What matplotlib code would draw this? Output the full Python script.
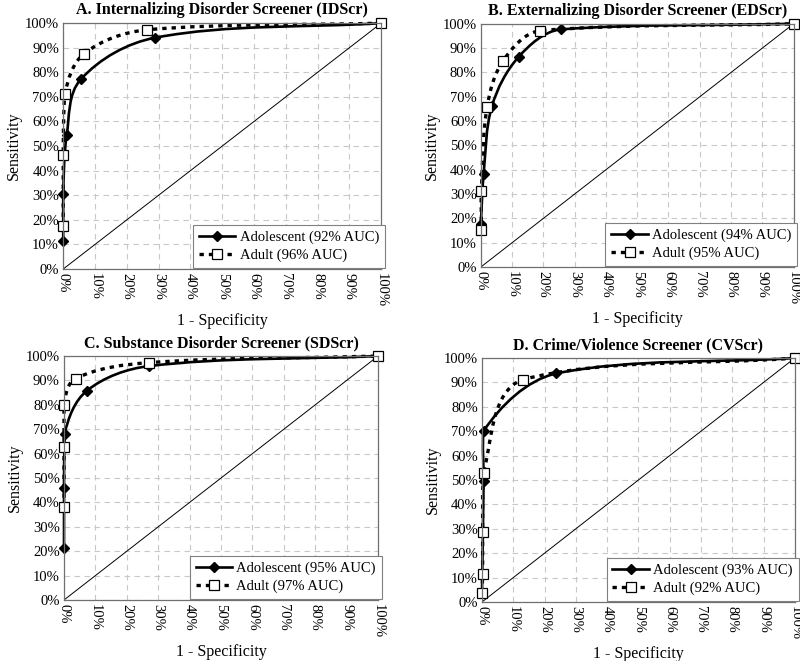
import matplotlib
matplotlib.use("Agg")
import matplotlib.pyplot as plt
import numpy as np
from matplotlib.path import Path
from matplotlib.patches import PathPatch
from matplotlib.lines import Line2D
from matplotlib.ticker import MultipleLocator, PercentFormatter

plt.rcParams['font.family'] = ['Liberation Serif', 'DejaVu Serif']

# A. Internalizing
a_adol_x = [0.000, 0.000, 0.011, 0.055, 0.290, 1.0]
a_adol_y = [0.113, 0.306, 0.544, 0.771, 0.941, 1.0]
a_adult_x = [0.000, 0.000, 0.005, 0.066, 0.263, 1.0]
a_adult_y = [0.174, 0.464, 0.710, 0.876, 0.973, 1.0]

# B. Externalizing
b_adol_x = [0.000, 0.009, 0.036, 0.121, 0.255, 1.0]
b_adol_y = [0.176, 0.381, 0.663, 0.864, 0.977, 1.0]
b_adult_x = [0.002, 0.002, 0.020, 0.072, 0.190, 1.0]
b_adult_y = [0.151, 0.314, 0.657, 0.849, 0.972, 1.0]

# C. Substance
c_adol_x = [0.000, 0.000, 0.002, 0.073, 0.271, 1.0]
c_adol_y = [0.214, 0.459, 0.682, 0.858, 0.959, 1.0]
c_adult_x = [0.000, 0.000, 0.000, 0.037, 0.271, 1.0]
c_adult_y = [0.381, 0.627, 0.801, 0.908, 0.973, 1.0]

# D. Crime/Violence
d_adol_x = [0.000, 0.005, 0.005, 0.237, 1.0]
d_adol_y = [0.038, 0.497, 0.701, 0.937, 1.0]
d_adult_x = [0.000, 0.002, 0.002, 0.005, 0.130, 1.0]
d_adult_y = [0.038, 0.116, 0.286, 0.529, 0.912, 1.0]

titles = ["A. Internalizing Disorder Screener (IDScr)",
	"B. Externalizing Disorder Screener (EDScr)",
	"C. Substance Disorder Screener (SDScr)",
	"D. Crime/Violence Screener (CVScr)"]
adol_auc = ["92%", "94%", "95%", "93%"]
adult_auc = ["96%", "95%", "97%", "92%"]

# axes rectangles in figure fractions
rects = [[0.079, 0.593, 0.3975, 0.372],
	[0.601, 0.596, 0.391, 0.368],
	[0.080, 0.0923, 0.3925, 0.369],
	[0.6025, 0.0893, 0.391, 0.369]]

DASH = (0, (1.3, 1.5))


def smooth_path(xs, ys, sx=1.3):
	# smoothed line like Excel: cubic Bezier, tangent along neighbours,
	# handle length a third of the segment (worked out in a box scaled like the plot)
	pts = np.column_stack([xs, ys]).astype(float)
	scale = np.array([sx, 1.0])
	q = pts * scale
	n = len(q)
	dirs = []
	for i in range(n):
		d = q[min(i + 1, n - 1)] - q[max(i - 1, 0)]
		dirs.append(d / (np.hypot(*d) or 1.0))
	verts = [pts[0]]
	codes = [Path.MOVETO]
	for i in range(n - 1):
		L = np.hypot(*(q[i + 1] - q[i]))
		c1 = np.clip((q[i] + dirs[i] * L / 3) / scale, 0, 1)
		c2 = np.clip((q[i + 1] - dirs[i + 1] * L / 3) / scale, 0, 1)
		verts += [c1, c2, pts[i + 1]]
		codes += [Path.CURVE4] * 3
	return Path(verts, codes)


def draw_panel(ax, adol, adult, title, auc1, auc2):
	ax.set_xlim(0, 1)
	ax.set_ylim(0, 1)
	ax.xaxis.set_major_locator(MultipleLocator(0.1))
	ax.yaxis.set_major_locator(MultipleLocator(0.1))
	ax.xaxis.set_major_formatter(PercentFormatter(1.0, decimals=0))
	ax.yaxis.set_major_formatter(PercentFormatter(1.0, decimals=0))
	ax.grid(True, ls=(0, (5, 4)), color='#c8c8c8', lw=0.8)
	ax.set_axisbelow(True)
	ax.tick_params(length=0, labelsize=10.5, pad=3)
	for lab in ax.get_xticklabels():
		lab.set_rotation(270)
	for s in ax.spines.values():
		s.set_color('#707070')
		s.set_linewidth(0.9)

	ax.plot([0, 1], [0, 1], color='black', lw=0.7)

	ax.add_patch(PathPatch(smooth_path(*adult), fill=False, ec='black', lw=2.4,
		ls=DASH, capstyle='butt', clip_on=False))
	ax.add_patch(PathPatch(smooth_path(*adol), fill=False, ec='black', lw=1.9,
		clip_on=False))
	ax.plot(*adol, ls='none', marker='D', ms=5, color='black', clip_on=False)
	ax.plot(*adult, ls='none', marker='s', ms=7.5, mfc='white', mec='black', mew=0.9,
		clip_on=False)

	h1 = Line2D([], [], color='black', lw=1.9, marker='D', ms=5)
	h2 = Line2D([], [], color='black', lw=2.4, ls=DASH, marker='s', ms=7.5,
		mfc='white', mec='black', mew=0.9)
	leg = ax.legend([h1, h2], [f"Adolescent ({auc1} AUC)", f"Adult ({auc2} AUC)"],
		loc='lower right', bbox_to_anchor=(1.012, 0.004), borderaxespad=0,
		fontsize=10.5, fancybox=False, edgecolor='#808080', framealpha=1,
		handlelength=2.5, handletextpad=0.3, borderpad=0.4, labelspacing=0.3)
	leg.get_frame().set_linewidth(0.8)

	ax.set_title(title, fontsize=11.5, fontweight='bold', pad=6.5)
	ax.set_ylabel("Sensitivity", fontsize=11.5, labelpad=2)
	ax.set_xlabel("1 - Specificity", fontsize=11.5, labelpad=4)


fig = plt.figure(figsize=(8, 6.61), dpi=100)
panels = [((a_adol_x, a_adol_y), (a_adult_x, a_adult_y)),
	((b_adol_x, b_adol_y), (b_adult_x, b_adult_y)),
	((c_adol_x, c_adol_y), (c_adult_x, c_adult_y)),
	((d_adol_x, d_adol_y), (d_adult_x, d_adult_y))]

for i, (adol, adult) in enumerate(panels):
	ax = fig.add_axes(rects[i])
	draw_panel(ax, adol, adult, titles[i], adol_auc[i], adult_auc[i])

fig.savefig("out.png", dpi=100)
